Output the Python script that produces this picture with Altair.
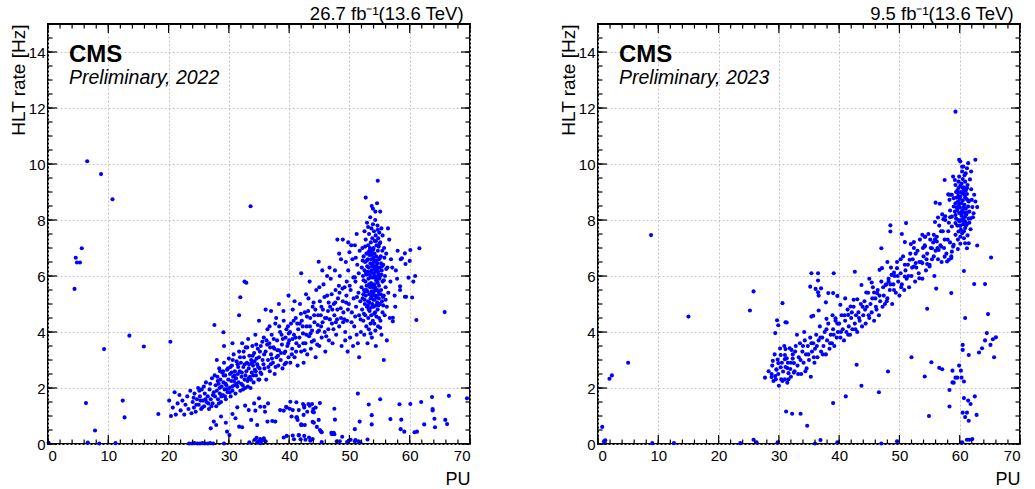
import altair as alt
import pandas as pd

FONT = "Liberation Sans"
W, H = 422, 420

# ---------------- 2022 panel (PU, HLT rate [Hz]) ----------------
outliers_2022 = [
    (6.5, 10.1), (8.8, 9.64), (10.7, 8.74), (33.6, 8.49), (5.6, 6.99), (4.6, 6.65),
    (4.8, 6.48), (5.3, 6.48), (4.4, 5.54), (9.3, 3.39), (13.5, 3.87), (15.9, 3.48),
    (20.3, 3.65), (6.3, 1.46), (12.4, 1.55), (12.7, 0.95), (18.3, 1.07), (7.8, 0.48),
    (6.6, 0.05), (8.5, 0.02), (11.2, 0.03), (0.1, 0.04), (27.6, 4.25), (29.1, 3.99),
    (32.6, 5.8), (32.9, 5.76), (31.9, 5.24), (31.7, 4.6), (44.9, 6.51), (54.7, 9.4),
    (52.7, 8.8),
]
right_side_2022 = [
    (61.6, 6.99), (60.1, 6.93), (59.2, 6.81), (58.7, 6.63), (58.5, 6.6), (60.0, 6.54),
    (59.3, 6.43), (60.9, 6.0), (60.6, 5.8), (59.8, 5.94), (58.4, 5.63), (58.4, 5.5),
    (59.2, 5.26), (59.4, 5.26), (60.4, 5.23), (57.9, 5.9), (65.8, 4.71), (61.1, 4.43),
    (57.2, 4.51), (57.2, 4.38), (55.7, 3.0), (56.4, 7.7), (57.1, 6.3), (57.5, 5.3),
    (56.7, 4.5), (57.6, 4.9), (58.0, 6.9), (57.7, 6.2),
]
low_2022 = [
    (47.5, 1.26), (47.6, 0.87), (45.1, 1.46), (40.2, 1.51), (42.5, 1.3), (43.0, 1.15),
    (42.3, 1.43), (44.4, 1.3), (44.1, 1.13), (41.2, 0.95), (42.1, 0.68), (42.6, 0.68),
    (43.9, 0.79), (44.6, 0.61), (45.4, 0.42), (47.0, 0.4), (47.4, 0.4), (48.8, 0.26),
    (40.8, 0.17), (41.9, 0.17), (42.7, 0.15), (43.5, 0.12), (39.6, 1.3), (50.9, 0.53),
    (51.7, 0.8), (51.4, 1.8), (53.2, 1.41), (53.7, 1.03), (53.7, 0.7), (55.1, 1.6),
    (53.0, 0.16), (51.0, 0.14), (51.5, 0.1), (50.2, 0.15), (49.9, 0.12), (56.8, 0.89),
    (58.3, 1.42), (58.6, 0.87), (58.5, 0.53), (59.1, 0.44), (60.8, 0.42), (61.2, 0.44),
    (60.1, 1.43), (61.9, 1.5), (62.4, 0.7), (63.7, 1.68), (63.8, 1.25), (63.8, 1.2),
    (64.1, 0.9), (64.2, 0.6), (65.9, 0.86), (66.2, 0.71), (66.5, 1.72), (69.5, 1.63),
    (41.2, 1.49), (41.4, 0.86), (41.6, 0.32), (40.4, 0.98), (44.0, 1.25), (43.8, 1.43),
    (43.2, 1.43), (42.0, 0.7), (45.1, 0.5), (44.9, 0.86), (47.1, 0.35), (47.5, 0.35),
    (27.0, 0.56), (27.5, 0.80), (27.9, 0.68), (28.7, 0.98), (29.5, 0.76), (29.7, 0.44),
    (30.1, 0.32), (30.6, 1.07), (31.1, 0.92), (31.4, 1.31), (31.7, 0.62), (32.2, 0.6),
    (32.7, 1.37), (33.3, 1.21), (33.7, 0.86), (34.2, 1.45), (34.4, 1.19), (34.7, 0.68),
    (35.0, 1.63), (35.2, 1.33), (35.9, 1.33), (36.0, 1.15), (36.4, 0.8), (36.5, 1.45),
    (37.2, 0.82), (37.7, 0.8), (38.5, 1.21), (39.1, 1.19), (39.5, 1.33), (40.1, 1.26),
    (40.6, 1.21), (41.3, 0.95), (41.6, 1.21), (42.0, 0.68), (42.4, 1.04), (42.5, 1.37),
    (43.4, 1.37), (43.9, 1.15), (44.1, 0.76), (45.3, 0.44),
]
zeros_2022 = [
    (23.4, 0.02), (23.9, 0.02), (24.3, 0.03), (24.8, 0.02), (25.2, 0.02), (25.6, 0.03),
    (26.0, 0.02), (26.5, 0.02), (26.9, 0.03), (27.4, 0.02), (29.2, 0.02), (34.3, 0.15),
    (34.6, 0.22), (34.9, 0.1), (35.2, 0.18), (35.5, 0.12), (35.8, 0.2), (36.1, 0.1),
    (34.7, 0.05), (35.3, 0.03), (39.1, 0.23), (39.6, 0.29), (40.6, 0.3), (41.6, 0.31),
    (42.5, 0.29), (43.3, 0.23), (43.9, 0.18), (49.6, 0.07), (50.9, 0.1), (51.8, 0.06),
    (47.9, 0.1), (48.4, 0.1), (33.4, 0.06), (45.4, 0.07),
]
band_2022 = [
    (20.1, 1.55), (20.4, 1.0), (20.7, 1.3), (21.0, 1.85), (21.2, 1.05), (21.5, 1.45),
    (21.8, 1.75), (22.0, 1.2), (22.3, 1.55), (22.6, 1.05), (22.8, 1.4), (23.1, 1.7),
    (23.3, 1.25), (23.6, 1.9), (23.8, 1.1),
    (24.0, 1.5), (24.2, 1.3), (24.3, 1.8), (24.5, 1.15), (24.7, 1.6), (24.9, 2.0),
    (25.0, 1.4), (25.2, 1.7), (25.4, 1.25), (25.5, 1.95), (25.7, 1.55), (25.9, 1.35),
    (26.0, 1.8), (26.2, 2.2), (26.3, 1.5), (26.5, 1.7), (26.7, 1.25), (26.8, 1.95),
    (27.0, 1.6), (27.2, 2.35), (27.3, 1.45), (27.5, 1.85), (27.7, 1.7), (27.8, 2.1),
    (27.9, 1.35),
    (28.0, 1.9), (28.1, 2.4), (28.2, 1.6), (28.3, 2.15), (28.4, 2.7), (28.5, 1.8),
    (28.6, 2.3), (28.7, 1.5), (28.8, 2.05), (28.9, 2.55), (29.0, 1.75), (29.1, 2.2),
    (29.2, 2.9), (29.3, 1.95), (29.4, 2.45), (29.5, 1.6), (29.6, 2.1), (29.7, 2.65),
    (29.8, 1.85), (29.9, 2.3), (30.0, 3.05), (30.1, 2.0), (30.2, 2.5), (30.3, 1.7),
    (30.4, 2.25), (30.5, 2.8), (30.6, 1.9), (30.7, 2.4), (30.8, 3.2), (30.9, 2.1),
    (31.0, 2.6), (31.1, 1.8), (31.2, 2.35), (31.3, 2.95), (31.4, 2.05), (31.5, 2.5),
    (31.6, 2.2), (31.7, 3.3), (31.8, 2.6), (31.9, 1.9), (32.0, 2.9), (32.1, 2.4),
    (32.2, 3.6), (32.3, 2.1), (32.4, 2.75), (32.5, 3.1), (32.6, 2.3), (32.7, 2.0),
    (32.8, 3.45), (32.9, 2.6), (33.0, 2.9), (33.1, 2.25), (33.2, 3.75), (33.3, 2.7),
    (33.4, 3.15), (33.5, 2.4), (33.6, 2.0), (33.7, 3.0), (33.8, 2.55), (33.9, 3.5),
    (34.0, 2.8), (34.1, 2.2), (34.2, 3.25), (34.3, 2.65), (34.4, 3.9), (34.5, 2.45),
    (34.6, 3.05), (34.7, 2.85), (34.8, 3.4), (34.9, 2.3), (35.0, 3.1), (35.1, 2.7),
    (35.3, 3.5), (35.4, 2.5), (35.6, 3.0), (35.8, 3.8), (35.9, 2.7), (36.1, 3.3),
    (36.2, 2.3), (36.4, 4.1), (36.5, 3.0), (36.7, 3.6), (36.8, 2.6), (37.0, 3.2),
    (37.1, 3.9), (37.3, 2.9), (37.4, 3.45), (37.6, 2.5), (37.7, 4.3), (37.9, 3.1),
    (38.0, 3.7), (38.2, 2.8), (38.3, 3.35), (38.5, 4.0), (38.6, 3.0), (38.8, 3.55),
    (38.9, 2.7), (39.1, 4.4), (39.2, 3.25), (39.4, 3.8), (39.5, 2.9), (39.7, 3.5),
    (39.8, 4.2), (39.9, 3.1),
    (40.0, 3.7), (40.2, 2.9), (40.3, 4.3), (40.5, 3.4), (40.6, 4.8), (40.8, 3.9),
    (40.9, 3.1), (41.1, 4.5), (41.2, 3.6), (41.4, 2.8), (41.5, 4.1), (41.7, 3.8),
    (41.8, 5.0), (42.0, 3.3), (42.1, 4.4), (42.3, 3.95), (42.4, 2.9), (42.6, 4.7),
    (42.7, 3.6), (42.9, 4.2), (43.0, 3.2), (43.2, 5.2), (43.3, 3.85), (43.5, 4.5),
    (43.6, 3.4), (43.8, 4.05), (43.9, 4.9), (44.1, 3.7), (44.2, 4.35), (44.4, 3.1),
    (44.5, 5.5), (44.7, 4.0),
    (44.8, 4.6), (45.0, 3.5), (45.1, 5.1), (45.3, 4.2), (45.4, 3.8), (45.6, 4.8),
    (45.7, 5.7), (45.9, 4.0), (46.0, 3.3), (46.2, 4.5), (46.3, 5.3), (46.5, 4.1),
    (46.6, 3.7), (46.8, 4.9), (46.9, 5.9), (47.1, 4.3), (47.2, 3.6), (47.4, 5.0),
    (47.5, 4.6), (47.7, 5.5), (47.8, 3.9), (48.0, 4.8), (48.1, 5.2), (48.3, 4.2),
    (48.4, 6.0), (48.6, 4.5), (48.7, 3.5), (48.9, 5.1), (49.0, 4.7), (49.2, 5.6),
    (49.3, 4.0), (49.5, 5.3),
    (49.6, 4.4), (49.8, 6.2), (49.9, 5.0), (50.1, 3.8), (50.2, 5.5), (50.4, 4.7),
    (50.5, 6.6), (50.7, 5.2), (50.8, 4.2), (51.0, 5.8), (51.1, 4.9), (51.3, 6.4),
    (51.4, 3.6), (51.5, 5.4), (51.6, 4.6), (51.7, 6.9), (51.8, 5.1), (51.9, 4.0),
    (50.3, 7.1), (51.2, 7.5), (50.9, 5.95), (49.7, 3.3), (51.6, 3.1), (50.6, 3.5),
    (49.4, 6.5),
    (48.0, 7.3), (48.9, 7.3), (49.8, 7.2), (42.0, 6.1), (50.9, 7.1), (48.3, 6.8),
    (48.6, 6.6), (46.7, 6.3), (45.5, 6.2), (43.4, 5.8), (39.9, 5.3), (38.3, 5.0),
    (37.0, 4.75), (36.1, 4.8), (35.0, 4.4), (30.6, 3.6), (29.2, 3.5), (28.0, 3.0),
    (28.45, 2.0), (29.05, 2.6), (29.65, 1.95), (30.25, 2.75), (30.85, 2.25), (31.45, 2.85),
    (32.05, 2.15), (32.65, 2.85), (33.25, 2.35), (33.85, 2.9), (34.45, 2.6), (35.15, 3.3),
    (35.75, 2.85), (36.35, 3.55), (36.95, 2.85), (37.55, 3.4), (38.15, 3.15), (38.75, 3.9),
    (39.35, 3.3), (39.95, 3.95), (40.55, 3.75), (41.15, 3.3), (41.75, 4.3), (42.35, 3.6),
    (42.95, 4.55), (43.55, 3.95), (44.15, 4.6), (44.75, 4.25), (45.35, 4.9), (45.95, 4.5),
    (46.55, 5.05), (47.15, 4.8), (47.75, 4.35), (48.35, 5.4), (48.95, 4.35), (49.55, 5.8),
]
band_2022_more = [
    (24.15, 1.65), (24.6, 1.4), (25.1, 1.9), (25.6, 1.3), (25.85, 2.05), (26.1, 1.6),
    (26.6, 1.45), (26.9, 2.15), (27.35, 1.75), (27.65, 2.45), (27.1, 1.35), (25.3, 1.55),
    (28.15, 2.25), (28.55, 2.6), (28.75, 1.7), (29.15, 2.45), (29.45, 2.15), (29.85, 2.7),
    (30.15, 1.85), (30.45, 2.55), (30.65, 3.0), (30.95, 2.45), (31.25, 2.15), (31.55, 2.75),
    (31.85, 3.1), (28.35, 1.45), (29.35, 1.7), (30.55, 2.05),
    (32.15, 2.55), (32.45, 3.3), (32.75, 2.45), (33.05, 3.45), (33.35, 2.85), (33.65, 2.3),
    (33.95, 3.15), (34.25, 2.95), (34.55, 3.55), (34.85, 2.75), (35.25, 2.55), (35.55, 3.65),
    (35.85, 3.2), (32.35, 1.95), (33.15, 2.05), (34.05, 2.45), (35.05, 2.3),
    (36.25, 3.7), (36.55, 2.75), (36.85, 3.45), (37.15, 3.05), (37.45, 3.75), (37.75, 2.75),
    (38.05, 3.35), (38.35, 4.2), (38.65, 3.25), (38.95, 3.75), (39.25, 2.85), (39.55, 4.1),
    (39.85, 3.6), (36.75, 4.2), (37.85, 4.5), (39.05, 4.75),
    (40.15, 4.0), (40.45, 3.2), (40.75, 4.4), (41.05, 3.8), (41.35, 4.3), (41.65, 3.5),
    (41.95, 4.65), (42.25, 4.2), (42.55, 3.35), (42.85, 3.9), (43.15, 4.75), (43.45, 4.2),
    (43.75, 3.65), (44.05, 5.05), (44.35, 4.8), (44.65, 3.55), (40.9, 5.1), (42.8, 5.35),
    (44.95, 4.05), (45.25, 4.6), (45.55, 4.35), (45.85, 5.25), (46.15, 3.85), (46.45, 4.75),
    (46.75, 4.45), (47.05, 5.35), (47.35, 4.1), (47.65, 5.05), (47.95, 4.45), (48.25, 5.65),
    (45.0, 5.6), (46.3, 6.0), (47.6, 6.2),
    (48.55, 4.85), (48.85, 5.55), (49.15, 4.45), (49.45, 5.05), (49.75, 4.8), (50.05, 5.65),
    (50.35, 4.35), (50.65, 5.95), (50.95, 4.55), (51.25, 5.25), (51.55, 6.1), (51.85, 4.45),
    (50.0, 6.85), (51.05, 6.65), (49.3, 3.7), (51.2, 3.9),
]
cluster_2022 = [
    (52.0, 5.6), (52.05, 6.3), (52.1, 4.8), (52.15, 7.0), (52.2, 5.2), (52.25, 6.0),
    (52.3, 4.4), (52.35, 6.7), (52.4, 5.5), (52.45, 3.9), (52.5, 6.2), (52.5, 7.6),
    (52.55, 5.0), (52.6, 6.5), (52.62, 4.6), (52.65, 5.8), (52.7, 7.3), (52.72, 5.3),
    (52.75, 6.1), (52.8, 4.2), (52.82, 6.8), (52.85, 5.65), (52.9, 4.9), (52.92, 7.9),
    (52.95, 6.35), (53.0, 5.45), (53.0, 3.6),
    (53.05, 6.6), (53.08, 5.1), (53.1, 7.1), (53.12, 4.5), (53.15, 5.9), (53.2, 6.3),
    (53.22, 4.1), (53.25, 7.5), (53.3, 5.35), (53.32, 6.9), (53.35, 4.75), (53.4, 6.05),
    (53.42, 5.6), (53.45, 8.1), (53.48, 6.45), (53.5, 4.3), (53.5, 5.2),
    (53.55, 7.2), (53.58, 5.75), (53.6, 6.6), (53.62, 4.6), (53.65, 7.7), (53.68, 5.45),
    (53.7, 6.2), (53.72, 3.8), (53.75, 6.85), (53.78, 5.0), (53.8, 7.35), (53.82, 5.95),
    (53.85, 6.4), (53.88, 4.4), (53.9, 8.4), (53.92, 5.6), (53.95, 6.95), (53.98, 5.15),
    (54.0, 7.0), (54.0, 6.1),
    (54.03, 4.9), (54.05, 6.5), (54.08, 7.6), (54.1, 5.7), (54.12, 4.3), (54.15, 6.8),
    (54.18, 5.3), (54.2, 7.25), (54.22, 6.0), (54.25, 4.7), (54.28, 8.0), (54.3, 6.35),
    (54.32, 5.5), (54.35, 7.45), (54.38, 3.5), (54.4, 6.15), (54.42, 5.85), (54.45, 6.7),
    (54.48, 4.55), (54.5, 7.1), (54.5, 5.25),
    (54.55, 6.55), (54.58, 8.6), (54.6, 5.05), (54.62, 6.25), (54.65, 7.8), (54.68, 4.8),
    (54.7, 5.75), (54.72, 6.9), (54.75, 4.2), (54.78, 7.35), (54.8, 5.45), (54.82, 6.05),
    (54.85, 7.05), (54.88, 5.2), (54.9, 6.6), (54.92, 4.5), (54.95, 7.55), (54.98, 5.9),
    (55.0, 6.3),
    (55.05, 5.0), (55.1, 7.2), (55.12, 6.0), (55.15, 4.4), (55.2, 6.7), (55.25, 5.5),
    (55.3, 7.7), (55.32, 3.9), (55.35, 6.2), (55.4, 5.1), (55.45, 6.9), (55.5, 4.7),
    (55.5, 5.8),
    (55.6, 6.4), (55.7, 5.3), (55.75, 7.0), (55.85, 4.6), (55.9, 6.0), (56.0, 5.6),
    (56.1, 6.8), (56.2, 4.9), (56.3, 6.3), (56.45, 5.4), (56.6, 7.3), (56.2, 3.7),
    (56.8, 5.8), (56.9, 6.6),
    (54.3, 8.3), (53.7, 8.5), (55.1, 8.3), (53.3, 6.75), (54.1, 5.95), (54.6, 6.45),
    (53.9, 5.35), (54.4, 4.95), (53.6, 6.95), (54.9, 5.65), (53.4, 4.85), (54.2, 6.55),
    (52.35, 5.85), (52.85, 6.05), (53.25, 5.7), (53.75, 6.35), (54.25, 5.6), (54.75, 6.15),
    (55.25, 6.45), (55.55, 5.25), (53.15, 6.85), (53.65, 5.25), (54.15, 6.25), (54.65, 5.5),
    (52.6, 5.45), (53.05, 4.95), (53.55, 6.15), (54.05, 5.45), (54.55, 5.95), (55.05, 6.65),
]
cluster_2022_more = [
    (52.2, 6.55), (52.4, 4.65), (52.6, 7.05), (52.8, 5.5), (53.0, 6.15), (53.2, 4.8),
    (53.4, 7.0), (53.6, 5.65), (53.8, 4.9), (54.0, 6.65), (54.2, 5.15), (54.4, 7.25),
    (54.6, 5.8), (54.8, 4.95), (55.0, 7.15), (55.2, 5.35), (55.4, 6.35), (55.6, 4.95),
    (55.8, 6.65), (56.0, 5.15), (52.5, 5.15), (52.9, 6.55), (53.3, 5.05), (53.7, 6.75),
    (54.1, 4.65), (54.5, 6.35), (54.9, 5.35), (55.3, 6.05), (55.7, 5.85), (56.1, 6.25),
    (53.1, 7.75), (53.9, 7.85), (54.7, 7.65), (55.5, 7.45), (53.5, 3.95), (54.3, 4.05),
    (55.1, 4.15), (52.3, 5.35), (53.45, 5.95), (54.35, 5.3),
]

# ---------------- 2023 panel ----------------
outliers_2023 = [
    (8.8, 7.46), (15.0, 4.55), (25.8, 5.45), (25.2, 4.77), (30.6, 5.03), (29.7, 4.42),
    (29.9, 4.24), (31.3, 4.34), (29.4, 3.96), (5.0, 2.9), (1.9, 2.33), (2.3, 2.45),
    (0.7, 0.61), (1.0, 0.1), (1.1, 0.05), (1.2, 0.13), (9.0, 0.03), (12.6, 0.03),
    (23.6, 0.03), (25.8, 0.15), (26.3, 0.06), (29.8, 0.06), (31.2, 1.16), (32.2, 1.08),
    (59.3, 11.87),
]
low_2023 = [
    (33.6, 1.08), (34.7, 0.65), (39.0, 1.46), (41.1, 1.7), (43.7, 2.08), (46.6, 1.85),
    (42.9, 2.83), (48.1, 2.59), (52.0, 3.1), (54.2, 2.41), (54.9, 1.0), (55.3, 2.92),
    (56.6, 2.72), (57.1, 2.67), (58.3, 1.93), (58.3, 1.34), (58.8, 2.62), (58.8, 2.2),
    (59.3, 2.37), (59.6, 2.37), (59.9, 2.8), (60.2, 2.62), (60.3, 2.37), (60.7, 2.23),
    (60.5, 3.54), (60.5, 3.36), (61.5, 3.18), (60.9, 4.5), (60.7, 6.18), (62.4, 5.71),
    (64.2, 5.71), (65.2, 6.66), (64.7, 4.64), (64.5, 3.96), (64.2, 3.7), (63.7, 3.42),
    (63.2, 3.27), (65.1, 3.54), (65.5, 3.74), (66.0, 3.81), (65.7, 3.1), (60.7, 1.64),
    (61.4, 1.55), (61.8, 1.43), (62.5, 1.7), (60.5, 1.12), (61.2, 1.12), (60.9, 0.96),
    (61.5, 0.83), (62.8, 1.04), (61.2, 0.15), (61.6, 0.15), (62.1, 0.18), (60.4, 0.06),
    (36.9, 0.14), (36.0, 0.02), (39.7, 0.06), (47.0, 0.02), (49.6, 0.1), (59.0, 2.19),
]
band_2023 = [
    (30.2, 3.41), (31.1, 3.39), (31.8, 3.42), (32.1, 3.36), (31.0, 3.18), (30.3, 3.18),
    (29.0, 2.97), (29.8, 3.02), (29.9, 2.89), (31.0, 3.03), (31.3, 3.06), (32.3, 3.05),
    (32.5, 2.89), (29.6, 2.67), (30.3, 2.74), (31.1, 2.75), (31.4, 2.71), (31.9, 2.68),
    (28.8, 2.5), (29.4, 2.43), (29.6, 2.65), (30.7, 2.59), (31.6, 2.53), (32.5, 2.55),
    (27.7, 2.37), (28.8, 2.39), (29.1, 2.25), (29.5, 2.31), (30.4, 2.31), (31.0, 2.31),
    (31.6, 2.31), (30.6, 2.25), (31.4, 2.19), (30.0, 2.08),
    (32.0, 2.9), (32.3, 3.2), (32.6, 2.6), (32.8, 3.5), (33.1, 2.8), (33.3, 3.1),
    (33.5, 3.6), (33.7, 2.5), (33.9, 3.3), (34.1, 2.9), (34.3, 3.7), (34.5, 3.2),
    (34.6, 2.7), (34.8, 3.5), (35.0, 3.0), (35.2, 3.8), (35.3, 2.4), (35.5, 3.3),
    (35.7, 3.6), (35.9, 2.9),
    (36.0, 3.4), (36.2, 3.9), (36.4, 3.1), (36.6, 3.7), (36.8, 4.2), (37.0, 3.3),
    (37.2, 3.8), (37.4, 3.5), (37.6, 4.0), (37.8, 3.2), (38.0, 3.7), (38.2, 4.3),
    (38.4, 3.4), (38.6, 3.9), (38.8, 3.6), (39.0, 4.1), (39.2, 3.5), (39.4, 4.4),
    (39.6, 3.8), (39.8, 4.0),
    (40.0, 4.3), (40.2, 3.8), (40.4, 4.6), (40.6, 4.1), (40.8, 3.7), (41.0, 4.4),
    (41.2, 4.0), (41.4, 4.8), (41.6, 4.2), (41.8, 3.9), (42.0, 4.5), (42.2, 4.1),
    (42.4, 4.9), (42.6, 4.3), (42.8, 4.6), (43.0, 4.0), (43.2, 4.7), (43.4, 4.4),
    (43.6, 5.0), (43.8, 4.2),
    (44.0, 4.6), (44.2, 5.1), (44.4, 4.3), (44.6, 4.9), (44.8, 5.4), (45.0, 4.5),
    (45.2, 5.0), (45.4, 4.7), (45.6, 5.6), (45.8, 4.4), (46.0, 5.2), (46.2, 4.8),
    (46.4, 5.5), (46.6, 4.6), (46.8, 5.1), (47.0, 5.8), (47.2, 4.9), (47.4, 5.3),
    (47.6, 5.0), (47.8, 5.7),
    (48.0, 5.2), (48.2, 5.9), (48.4, 5.5), (48.6, 6.3), (48.8, 5.0), (49.0, 5.7),
    (49.2, 6.0), (49.4, 5.4), (49.6, 6.5), (49.8, 5.8), (50.0, 5.3), (50.2, 6.1),
    (50.4, 5.7), (50.6, 6.7), (50.8, 5.5), (51.0, 6.2), (51.2, 5.9), (51.4, 6.4),
    (51.6, 5.6), (51.8, 6.8),
    (52.0, 6.0), (52.2, 6.6), (52.4, 7.0), (52.6, 5.8), (52.8, 6.3), (53.0, 6.9),
    (53.2, 6.1), (53.4, 7.3), (53.6, 6.5), (53.8, 5.9), (54.0, 6.7), (54.2, 7.1),
    (54.4, 6.2), (54.6, 6.8), (54.8, 7.5), (55.0, 6.4), (55.2, 7.0), (55.4, 6.6),
    (55.6, 7.2), (55.8, 6.0),
    (56.0, 6.9), (56.2, 7.4), (56.4, 6.6), (56.6, 7.8), (56.8, 7.1), (57.0, 6.5),
    (57.2, 7.6), (57.4, 7.0), (57.6, 8.0), (57.8, 6.8), (58.0, 7.3), (58.2, 7.9),
    (58.4, 7.2), (58.6, 6.7),
    (35.4, 6.1), (36.5, 6.1), (36.5, 5.84), (36.1, 5.54), (36.5, 5.42), (36.6, 5.3),
    (37.0, 5.56), (35.2, 5.62), (38.2, 5.39), (39.0, 5.39), (39.7, 5.29), (39.1, 6.1),
    (37.8, 5.06), (36.6, 4.77), (35.4, 4.55), (35.7, 4.58), (31.1, 4.35), (37.9, 4.47),
    (39.4, 4.49), (40.2, 4.97), (41.5, 4.61), (41.9, 4.91), (42.4, 5.15), (43.0, 5.17),
    (43.7, 5.68), (44.5, 5.41), (45.4, 5.77), (45.8, 5.41), (46.3, 5.39), (46.7, 6.22),
    (47.1, 6.28), (47.7, 5.68), (48.2, 5.8), (48.7, 6.04), (49.1, 6.12), (49.6, 6.28),
    (50.2, 6.6), (50.9, 5.98), (51.7, 6.58), (52.4, 6.34), (52.7, 6.46), (53.3, 5.92),
    (53.8, 6.46), (54.2, 7.05), (54.6, 6.43), (55.0, 6.34), (55.4, 6.99), (55.9, 7.31),
    (56.2, 7.23), (56.5, 6.93), (56.9, 7.05), (57.5, 6.69), (57.9, 6.52), (58.2, 6.58),
    (58.6, 6.64), (58.7, 6.87), (58.9, 7.05), (54.6, 4.83), (56.1, 5.55), (58.6, 5.39),
    (42.6, 6.15), (47.0, 6.99), (48.5, 7.81), (48.5, 7.59), (51.1, 7.89), (50.4, 7.5),
    (50.9, 7.21), (52.4, 7.21), (51.9, 7.14), (53.8, 7.47), (54.2, 7.4), (54.3, 7.4),
    (55.7, 7.47), (55.9, 7.93), (56.4, 8.09),
]
band_2023_more = [
    (28.3, 2.6), (28.9, 2.8), (29.3, 3.2), (29.9, 2.5), (30.5, 2.9), (30.9, 3.5),
    (31.5, 2.9), (32.0, 2.4), (32.7, 3.3), (33.2, 2.5), (33.6, 3.0), (34.0, 3.5),
    (34.4, 2.6), (34.9, 3.2), (35.4, 3.6), (35.8, 3.1), (33.0, 3.9), (34.2, 4.0),
    (36.3, 3.5), (36.9, 3.8), (37.3, 3.2), (37.9, 4.1), (38.5, 3.6), (39.1, 3.9),
    (39.7, 4.3), (40.3, 4.0), (40.9, 4.6), (41.5, 3.9), (42.1, 4.7), (42.7, 4.1),
    (43.3, 4.5), (43.9, 4.9), (38.9, 4.6), (41.0, 5.2),
    (44.3, 4.8), (44.9, 4.6), (45.5, 5.2), (46.1, 4.9), (46.7, 5.3), (47.3, 5.6),
    (47.9, 5.1), (48.5, 5.7), (49.1, 5.5), (49.7, 6.0), (50.3, 5.6), (50.9, 6.4),
    (51.5, 6.0), (52.1, 6.3), (45.0, 5.9), (48.0, 6.5),
    (52.7, 6.8), (53.3, 6.5), (53.9, 7.0), (54.5, 6.6), (55.1, 7.3), (55.7, 6.7),
    (56.3, 7.0), (56.9, 7.6), (57.5, 7.3), (58.1, 7.6), (57.1, 8.2), (58.4, 8.1),
]
cluster_2023 = [
    (59.9, 10.15), (60.1, 10.09), (61.4, 10.03), (60.6, 9.91), (61.2, 9.85), (62.6, 10.15),
    (61.9, 9.73), (60.4, 9.73), (61.0, 9.67), (60.5, 9.46), (59.2, 9.43), (59.8, 9.37),
    (60.9, 9.37), (59.3, 9.25), (60.1, 9.22), (60.7, 9.17), (59.8, 9.14), (61.2, 9.14),
    (59.6, 9.05), (60.7, 9.08), (58.2, 8.9), (58.7, 8.9), (59.7, 8.96), (60.4, 8.96),
    (61.2, 8.93), (60.1, 8.84), (60.9, 8.81), (59.0, 8.78), (62.0, 8.72), (62.6, 8.66),
    (61.5, 8.66), (58.3, 8.72), (59.3, 8.6), (60.3, 8.6), (60.8, 8.54), (59.8, 8.5),
    (59.0, 8.48), (61.4, 8.48), (62.1, 8.46), (62.9, 8.46), (59.6, 8.36), (58.4, 8.34),
    (60.4, 8.3), (61.2, 8.27), (62.3, 8.24), (59.3, 8.18), (60.3, 8.15), (60.9, 8.12),
    (61.8, 8.06), (58.7, 8.12), (59.8, 8.0), (60.7, 7.94), (59.3, 7.89), (61.2, 7.86),
    (60.1, 7.79), (58.7, 7.77), (60.9, 7.71), (61.8, 7.67), (59.8, 7.59), (60.4, 7.53),
    (59.3, 7.47), (60.7, 7.35), (60.9, 7.17), (60.1, 7.15), (61.5, 7.17), (62.9, 7.09),
    (61.2, 6.99), (59.7, 6.96), (59.0, 7.11),
    (60.0, 8.45), (60.5, 8.7), (60.2, 9.0), (61.0, 8.4), (59.9, 8.25), (60.6, 8.05),
    (60.3, 9.3), (61.1, 8.75), (59.5, 8.8), (60.8, 9.6), (61.6, 8.3), (60.0, 7.95),
    (60.45, 8.35), (61.3, 9.25), (59.7, 8.65), (60.9, 7.95), (62.4, 8.9), (61.9, 9.1),
    (58.9, 9.55), (59.4, 8.05),
    (57.5, 9.43), (58.1, 8.92), (58.5, 8.9), (56.0, 8.62), (56.7, 8.58), (57.6, 8.13),
    (57.3, 8.03),
]
cluster_2023_more = [
    (59.5, 8.45), (60.0, 8.75), (60.6, 8.45), (61.1, 8.2), (59.8, 8.85), (60.3, 8.0),
    (60.8, 8.9), (61.4, 8.7), (59.6, 7.8), (60.2, 7.65), (60.7, 7.6), (61.6, 7.9),
    (59.2, 8.3), (60.5, 9.15), (61.0, 9.05), (59.9, 9.55), (60.4, 9.9), (61.7, 9.45),
    (62.2, 8.1), (60.1, 7.4), (60.8, 8.25), (59.4, 9.0), (61.3, 7.45), (60.55, 7.85),
    (59.95, 8.6), (60.25, 8.25), (60.65, 8.95), (61.05, 7.8), (59.7, 7.3), (61.5, 8.05),
]

# ---------------- axis tick values ----------------
x_major = list(range(0, 71, 10))
x_minor = list(range(0, 71, 2))
y_major = list(range(0, 15, 2))
y_minor = [i * 0.5 for i in range(0, 31)]

MAJOR, MINOR = 9, 4.5


def to_df(*groups):
    rows = [p for g in groups for p in g]
    return pd.DataFrame(rows, columns=["pu", "rate"])


XS = alt.Scale(domain=[0, 70], nice=False, zero=False)
YS = alt.Scale(domain=[0, 15], nice=False, zero=False)


def tick_layers():
    out = []
    for vals, size in [(x_major, MAJOR), (x_minor, MINOR)]:
        d = pd.DataFrame({"v": vals})
        for y0, y1 in [(H, H - size), (0, size)]:
            out.append(alt.Chart(d).mark_rule(color="black", strokeWidth=1.2).encode(
                x=alt.X("v:Q", scale=XS, axis=None),
                y=alt.value(y0), y2=alt.value(y1)))
    for vals, size in [(y_major, MAJOR), (y_minor, MINOR)]:
        d = pd.DataFrame({"v": vals})
        for x0, x1 in [(0, size), (W, W - size)]:
            out.append(alt.Chart(d).mark_rule(color="black", strokeWidth=1.2).encode(
                y=alt.Y("v:Q", scale=YS, axis=None),
                x=alt.value(x0), x2=alt.value(x1)))
    return out


def panel(df, label, lumi):
    pts = alt.Chart(df).mark_circle(size=17, color="#0000ff", opacity=1).encode(
        x=alt.X("pu:Q", scale=XS, axis=alt.Axis(
            orient="bottom", values=x_major, tickSize=0, domain=False, grid=True,
            gridColor="#c4c4c4", gridDash=[2, 2], gridWidth=1,
            labelFont=FONT, labelFontSize=15, labelColor="black", labelPadding=4,
            title="PU", titleFont=FONT, titleFontSize=18, titleFontWeight="normal",
            titleColor="black", titleAnchor="end", titlePadding=7)),
        y=alt.Y("rate:Q", scale=YS, axis=alt.Axis(
            orient="left", values=y_major, tickSize=0, domain=False, grid=True,
            gridColor="#c4c4c4", gridDash=[2, 2], gridWidth=1,
            labelFont=FONT, labelFontSize=15, labelColor="black", labelPadding=3,
            title="HLT rate [Hz]", titleFont=FONT, titleFontSize=19,
            titleFontWeight="normal", titleColor="black", titleAnchor="end",
            titlePadding=0)),
    )
    cms = alt.Chart(pd.DataFrame({"t": ["CMS"]})).mark_text(
        font=FONT, fontSize=24, fontWeight="bold", color="black",
        align="left", baseline="alphabetic").encode(
        x=alt.value(21), y=alt.value(38), text="t:N")
    prelim = alt.Chart(pd.DataFrame({"t": [label]})).mark_text(
        font=FONT, fontSize=19.5, fontStyle="italic", color="black",
        align="left", baseline="alphabetic").encode(
        x=alt.value(21), y=alt.value(60), text="t:N")
    layers = [pts] + tick_layers() + [cms, prelim]
    return alt.layer(*layers).resolve_axis(x="independent", y="independent").properties(
        width=W, height=H,
        title=alt.TitleParams(lumi, anchor="end", font=FONT, fontSize=18.5,
                              fontWeight="normal", color="black", offset=0, dx=-7),
    )


left = panel(to_df(outliers_2022, right_side_2022, low_2022, zeros_2022, band_2022,
                   band_2022_more, cluster_2022, cluster_2022_more),
             "Preliminary, 2022", "26.7 fb\u207b\u00b9(13.6 TeV)")
right = panel(to_df(outliers_2023, low_2023, band_2023, band_2023_more,
                    cluster_2023, cluster_2023_more),
              "Preliminary, 2023", "9.5 fb\u207b\u00b9(13.6 TeV)")

chart = alt.hconcat(left, right, spacing=86).properties(
    padding={"left": 8, "top": 3, "right": 2, "bottom": 2}
).configure_view(stroke="black", strokeWidth=2)

chart.save("out.html", embed_options={"renderer": "svg", "actions": False})
